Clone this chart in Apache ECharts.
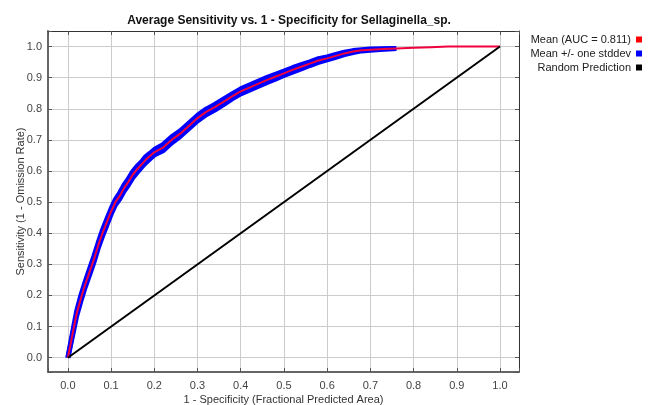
<!DOCTYPE html>
<html>
<head>
<meta charset="utf-8">
<script src="https://cdn.jsdelivr.net/npm/echarts@6/dist/echarts.min.js"></script>
<style>
    html, body { margin: 0; padding: 0; background: #fff; }
    #roc { width: 654px; height: 405px; }
</style>
</head>
<body>
<div id="roc"></div>
<script>
// 1 - specificity
var xs = [0, 0.01, 0.02, 0.03, 0.04, 0.05, 0.06, 0.07, 0.08, 0.09, 0.10, 0.11, 0.12, 0.13, 0.14, 0.15, 0.16, 0.17, 0.18, 0.19, 0.20,
    0.22, 0.24, 0.26, 0.28, 0.30, 0.32, 0.34, 0.36, 0.38, 0.40, 0.42, 0.44, 0.46, 0.48, 0.50, 0.52, 0.54, 0.56, 0.58, 0.60,
    0.62, 0.64, 0.66, 0.68, 0.70, 0.73, 0.76, 0.80, 0.84, 0.88, 0.92, 0.96, 1.0];
// mean sensitivity
var meanY = [0, 0.07, 0.14, 0.19, 0.235, 0.275, 0.315, 0.36, 0.40, 0.435, 0.47, 0.50, 0.52, 0.545, 0.565, 0.588, 0.605, 0.62, 0.636, 0.648, 0.66,
    0.675, 0.70, 0.72, 0.745, 0.77, 0.79, 0.805, 0.822, 0.84, 0.856, 0.868, 0.88, 0.892, 0.903, 0.914, 0.925, 0.935, 0.945, 0.955, 0.962,
    0.970, 0.978, 0.984, 0.988, 0.990, 0.992, 0.994, 0.996, 0.998, 1.0, 1.0, 1.0, 1.0];
// mean +/- one stddev (band fades out around x = 0.76)
var upperY = [0, 0.075, 0.148, 0.2, 0.244, 0.285, 0.325, 0.369, 0.41, 0.445, 0.479, 0.509, 0.53, 0.555, 0.575, 0.598, 0.615, 0.629, 0.646, 0.657, 0.669,
    0.685, 0.71, 0.729, 0.754, 0.779, 0.799, 0.814, 0.831, 0.848, 0.864, 0.876, 0.888, 0.9, 0.911, 0.921, 0.932, 0.942, 0.951, 0.961, 0.967,
    0.975, 0.982, 0.987, 0.99, 0.992, 0.993, 0.994];
var lowerY = [0, 0.065, 0.132, 0.181, 0.226, 0.265, 0.305, 0.351, 0.39, 0.425, 0.461, 0.491, 0.51, 0.535, 0.555, 0.578, 0.595, 0.611, 0.626, 0.639, 0.651,
    0.665, 0.69, 0.711, 0.736, 0.761, 0.781, 0.796, 0.813, 0.832, 0.848, 0.86, 0.872, 0.884, 0.895, 0.907, 0.918, 0.928, 0.939, 0.949, 0.957,
    0.965, 0.974, 0.981, 0.986, 0.988, 0.991, 0.994];
var randX = [0, 1];
var randY = [0, 1];

function pairs(x, y) {
    var out = [];
    for (var i = 0; i < y.length; i++) out.push([x[i], y[i]]);
    return out;
}

function DrawRoc() {
    var chart = echarts.init(document.getElementById('roc'));
    var font = 'Liberation Sans, Arial, sans-serif';
    var fmt = function (v) {
        if (v < -1e-9 || v > 1 + 1e-9) return '';
        return Math.abs(v) < 1e-9 ? '0.0' : v.toFixed(1);
    };
    var baseAxis = {
        type: 'value',
        splitNumber: 11,
        axisLine: { show: true, onZero: false, lineStyle: { color: '#666', width: 2 } },
        axisTick: { show: true, inside: true, length: 4, lineStyle: { color: '#555' } },
        splitLine: { show: true, lineStyle: { color: '#cccccc', width: 1 } },
        axisLabel: { color: '#444', fontSize: 11, fontFamily: font, formatter: fmt }
    };
    var mirror = {
        type: 'value',
        splitNumber: 11,
        axisLine: { show: true, onZero: false, lineStyle: { color: '#333', width: 1 } },
        axisTick: { show: true, inside: true, length: 4, lineStyle: { color: '#555' } },
        splitLine: { show: false },
        axisLabel: { show: false }
    };
    var legendBase = {
        orient: 'vertical',
        right: 12,
        padding: 0,
        align: 'right',
        icon: 'rect',
        itemWidth: 6,
        itemHeight: 6,
        itemGap: 4,
        textStyle: { color: '#222', fontSize: 11, fontFamily: font }
    };
    var option = {
        animation: false,
        backgroundColor: '#fff',
        title: {
            text: 'Average Sensitivity vs. 1 - Specificity for Sellaginella_sp.',
            left: 284,
            textAlign: 'center',
            top: 10,
            textStyle: { fontSize: 12, fontWeight: 'bold', color: '#111', fontFamily: font }
        },
        legend: [
            Object.assign({}, legendBase, { top: 34, data: ['Mean (AUC = 0.811)'] }),
            Object.assign({}, legendBase, { top: 48, data: ['Mean +/- one stddev'] }),
            Object.assign({}, legendBase, { top: 62, data: ['Random Prediction'] })
        ],
        grid: { left: 48, right: 135, top: 31, bottom: 33, containLabel: false, outerBoundsMode: 'none' },
        xAxis: [
            Object.assign({}, baseAxis, {
                min: -0.046,
                max: 1.044,
                position: 'bottom',
                name: '1 - Specificity (Fractional Predicted Area)',
                nameLocation: 'middle',
                nameGap: 22,
                nameMoveOverlap: false,
                nameTextStyle: { color: '#333', fontSize: 11, fontFamily: font },
                axisLabel: Object.assign({}, baseAxis.axisLabel, { margin: 8 })
            }),
            Object.assign({}, mirror, { min: -0.046, max: 1.044, position: 'top' })
        ],
        yAxis: [
            Object.assign({}, baseAxis, {
                min: -0.046,
                max: 1.05,
                position: 'left',
                name: 'Sensitivity (1 - Omission Rate)',
                nameLocation: 'middle',
                nameGap: 22,
                nameMoveOverlap: false,
                nameTextStyle: { color: '#333', fontSize: 11, fontFamily: font },
                axisLabel: Object.assign({}, baseAxis.axisLabel, { margin: 6 })
            }),
            Object.assign({}, mirror, { min: -0.046, max: 1.05, position: 'right' })
        ],
        series: [
            {
                name: 'Mean +/- one stddev',
                type: 'line',
                symbol: 'none',
                color: '#0000ff',
                lineStyle: { color: '#0000ff', width: 5 },
                data: pairs(xs, upperY)
            },
            {
                name: 'Mean +/- one stddev',
                type: 'line',
                symbol: 'none',
                color: '#0000ff',
                lineStyle: { color: '#0000ff', width: 5 },
                data: pairs(xs, lowerY)
            },
            {
                name: 'Mean (AUC = 0.811)',
                type: 'line',
                symbol: 'none',
                color: '#ff0000',
                lineStyle: { color: '#f0003c', width: 2 },
                data: pairs(xs, meanY)
            },
            {
                name: 'Random Prediction',
                type: 'line',
                symbol: 'none',
                color: '#000000',
                lineStyle: { color: '#000000', width: 2 },
                data: pairs(randX, randY)
            }
        ]
    };
    chart.setOption(option);
    window.addEventListener('resize', function () {
        chart.resize();
    });
}
DrawRoc();
</script>
</body>
</html>
